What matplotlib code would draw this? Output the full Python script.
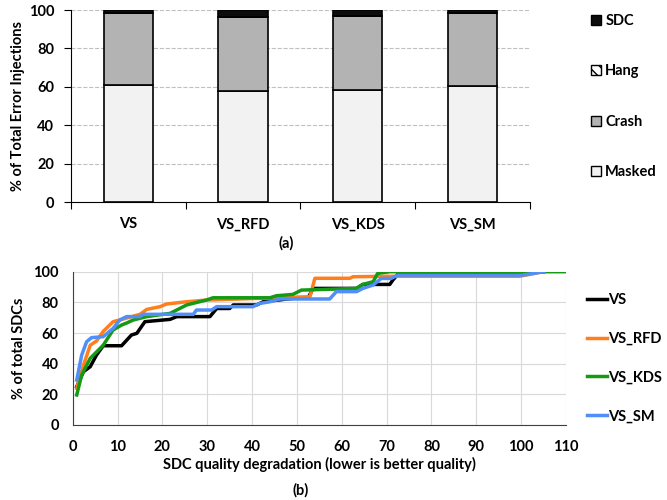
import matplotlib as mpl
mpl.use('Agg')
import matplotlib.pyplot as plt
from matplotlib.patches import Patch

plt.rcParams['font.family'] = ['Lato', 'DejaVu Sans']
plt.rcParams['font.weight'] = 'bold'
plt.rcParams['axes.labelweight'] = 'bold'
plt.rcParams['font.size'] = 10.5
plt.rcParams['hatch.linewidth'] = 1.0

# (a) outcome of error injections, % of total
versions = ['VS', 'VS_RFD', 'VS_KDS', 'VS_SM']
masked = [61.0, 57.9, 58.3, 60.4]
crash = [37.3, 38.6, 38.7, 37.9]
hang = [0.0, 0.0, 0.0, 0.0]
sdc = [1.7, 3.5, 3.0, 1.7]

# (b) cumulative % of SDCs vs quality degradation
vs_x = [0.9, 2.4, 3.9, 5.3, 6.8, 10.9, 13.1, 14.3, 16.1, 21.7, 23.2, 30.6, 32.1, 35.0, 35.8,
        41.0, 42.5, 49.1, 52.5, 53.6, 63.3, 64.7, 70.7, 71.4, 72.5, 105.0]
vs_y = [25.0, 34.8, 38.0, 45.6, 51.7, 51.7, 58.7, 59.8, 67.4, 68.9, 70.7, 70.7, 76.0, 76.0, 78.3,
        78.3, 80.4, 82.6, 83.0, 89.1, 89.1, 91.7, 91.7, 94.6, 98.3, 100.0]
rfd_x = [0.9, 2.4, 3.9, 5.3, 6.8, 9.0, 10.5, 15.0, 16.5, 19.5, 20.9, 25.4, 29.8, 52.9, 54.0,
         61.8, 62.5, 70.0, 99.6, 105.0]
rfd_y = [23.9, 39.0, 52.0, 54.8, 61.0, 67.4, 68.5, 72.2, 75.4, 77.2, 78.9, 80.4, 81.5, 83.7, 95.7,
         95.7, 96.7, 97.0, 97.0, 100.0]
kds_x = [0.9, 2.0, 3.9, 6.8, 9.0, 10.9, 12.0, 13.5, 16.5, 21.7, 25.4, 29.8, 31.3, 44.0, 45.4,
         49.1, 51.0, 63.3, 64.7, 67.0, 68.0, 70.7, 110.0]
kds_y = [19.6, 32.6, 43.5, 52.0, 62.0, 65.2, 66.5, 68.5, 70.7, 72.8, 78.3, 81.5, 83.0, 83.0, 84.3,
         85.2, 88.0, 89.1, 91.7, 93.5, 98.9, 100.0, 100.0]
sm_x = [0.9, 2.0, 3.1, 4.2, 6.8, 9.0, 10.5, 12.0, 15.0, 15.7, 26.9, 27.6, 31.0, 32.1, 40.2,
        41.7, 44.0, 46.2, 57.3, 58.8, 63.3, 64.7, 67.0, 68.8, 71.0, 72.5, 100.4, 105.0]
sm_y = [29.3, 45.6, 54.3, 57.0, 57.6, 63.0, 68.5, 70.7, 70.7, 72.2, 72.2, 75.0, 75.0, 77.2, 77.2,
        79.3, 80.4, 82.2, 82.2, 87.0, 87.0, 89.1, 91.3, 95.6, 95.6, 97.8, 97.8, 100.0]

fig = plt.figure(figsize=(6.67, 5), dpi=100)
bold = {'weight': 'bold', 'size': 10.5}

# ---------- (a) stacked bars ----------
ax1 = fig.add_axes([0.1064, 0.596, 0.688, 0.384])
pos = range(len(versions))
w = 0.43
ec = dict(edgecolor='black', linewidth=1.2)
ax1.bar(pos, masked, w, color='#f2f2f2', zorder=3, **ec)
b1 = [m for m in masked]
ax1.bar(pos, crash, w, bottom=b1, color='#b3b3b3', zorder=3, **ec)
b2 = [m + c for m, c in zip(masked, crash)]
ax1.bar(pos, hang, w, bottom=b2, color='white', hatch='\\\\\\', zorder=3, **ec)
b3 = [b + h for b, h in zip(b2, hang)]
ax1.bar(pos, sdc, w, bottom=b3, color='#0d0d0d', zorder=3, **ec)

ax1.set_xlim(-0.5, 3.5)
ax1.set_ylim(0, 100)
ax1.set_yticks(range(0, 101, 20))
ax1.set_xticks([-0.5, 0.5, 1.5, 2.5, 3.5])
ax1.set_xticklabels([])
ax1.set_xticks(list(pos), minor=True)
ax1.set_xticklabels(versions, minor=True)
ax1.tick_params(axis='x', which='major', length=5, direction='out')
ax1.tick_params(axis='x', which='minor', length=0, pad=11)
ax1.tick_params(axis='y', length=5, direction='out', pad=7)
ax1.grid(axis='y', linestyle='--', color='#bfbfbf', linewidth=0.8, zorder=0)
for s in ['top', 'right']:
    ax1.spines[s].set_visible(False)
ax1.set_ylabel('% of Total Error Injections', labelpad=3)
ax1.text(0.47, -0.18, '(a)', transform=ax1.transAxes, ha='center', va='top')

h_a = [Patch(facecolor='#0d0d0d', edgecolor='black', label='SDC'),
       Patch(facecolor='white', edgecolor='black', hatch='\\\\\\', label='Hang'),
       Patch(facecolor='#b3b3b3', edgecolor='black', label='Crash'),
       Patch(facecolor='#f2f2f2', edgecolor='black', label='Masked')]
ax1.legend(handles=h_a, loc='upper left', bbox_to_anchor=(1.12, 1.01), frameon=False,
           handlelength=0.7, handleheight=0.7, handletextpad=0.3, labelspacing=2.5,
           borderaxespad=0, prop=bold)

# ---------- (b) cumulative lines ----------
ax2 = fig.add_axes([0.109, 0.15, 0.7396, 0.3066])
ax2.plot(vs_x, vs_y, color='black', lw=2.5, label='VS')
ax2.plot(rfd_x, rfd_y, color='#ff7f1e', lw=2.5, label='VS_RFD')
ax2.plot(kds_x, kds_y, color='#169a16', lw=2.5, label='VS_KDS')
ax2.plot(sm_x, sm_y, color='#4f8ff7', lw=2.5, label='VS_SM')
ax2.set_xlim(0, 110)
ax2.set_ylim(0, 100)
ax2.set_xticks(range(0, 111, 10))
ax2.set_yticks(range(0, 101, 20))
ax2.tick_params(axis='both', length=0)
ax2.tick_params(axis='x', pad=11)
ax2.tick_params(axis='y', pad=10)
ax2.grid(True, color='#d9d9d9', linewidth=0.8)
ax2.set_axisbelow(True)
for s in ['top', 'right']:
    ax2.spines[s].set_visible(False)
for s in ['left', 'bottom']:
    ax2.spines[s].set_color('#404040')
ax2.set_ylabel('% of total SDCs', labelpad=5)
ax2.set_xlabel('SDC quality degradation (lower is better quality)', labelpad=2)
fig.text(0.45, 0.02, '(b)', ha='center', va='center', fontweight='bold')
ax2.legend(loc='upper left', bbox_to_anchor=(1.03, 0.9), frameon=False,
           handlelength=1.4, handletextpad=0.1, labelspacing=1.7, borderaxespad=0,
           prop=bold)

fig.savefig('out.png', dpi=100)
